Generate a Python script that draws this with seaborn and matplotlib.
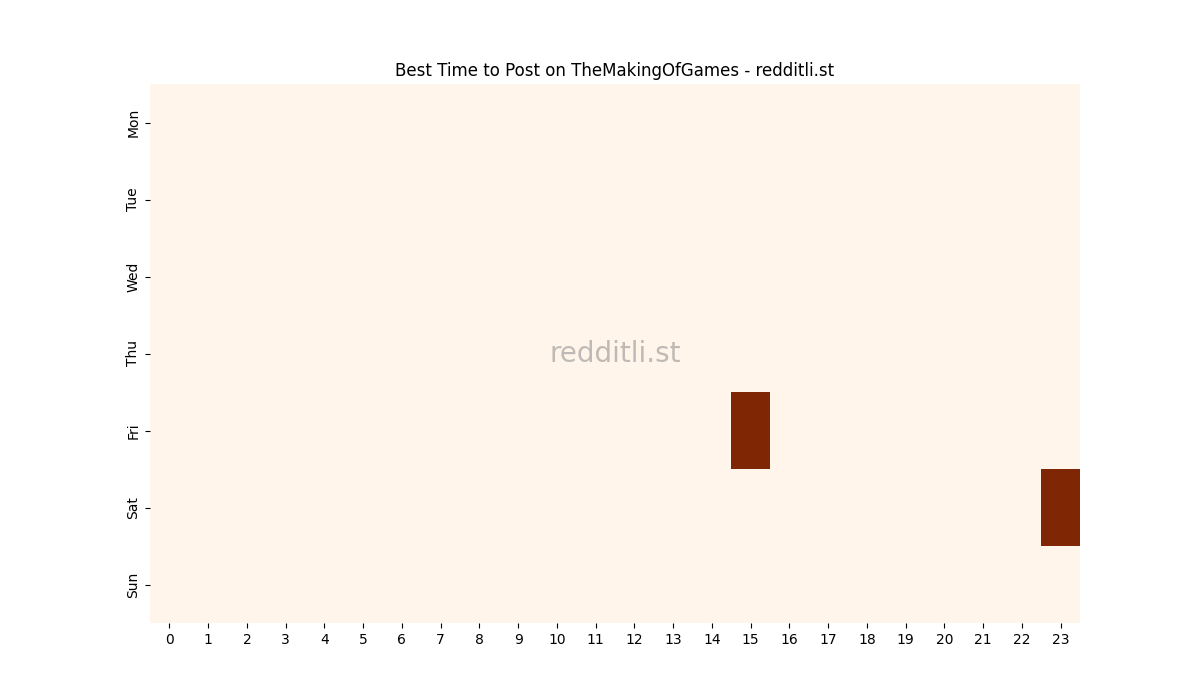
import numpy as np
import pandas as pd
import matplotlib
matplotlib.use("Agg")
import matplotlib.pyplot as plt
import seaborn as sns

# data
days = ["Mon", "Tue", "Wed", "Thu", "Fri", "Sat", "Sun"]
hours = list(range(24))
# (day, hour) slots with posts
hot_days = ["Fri", "Sat"]
hot_hours = [15, 23]
hot_values = [1, 1]

grid = pd.DataFrame(0, index=days, columns=hours, dtype=float)
for d, h, v in zip(hot_days, hot_hours, hot_values):
    grid.loc[d, h] = v

fig = plt.figure(figsize=(12, 7), dpi=100)
ax = plt.subplot(111)
sns.heatmap(grid, cmap="Oranges", cbar=False, ax=ax)

ax.set_title("Best Time to Post on TheMakingOfGames - redditli.st")
ax.set_xlabel("")
ax.set_ylabel("")
plt.setp(ax.get_xticklabels(), rotation=0)
plt.setp(ax.get_yticklabels(), rotation=90, va="center")

ax.text(0.5, 0.5, "redditli.st", transform=ax.transAxes,
        ha="center", va="center", fontsize=20, color="gray", alpha=0.5)

plt.savefig("out.png", dpi=100)
plt.close()
